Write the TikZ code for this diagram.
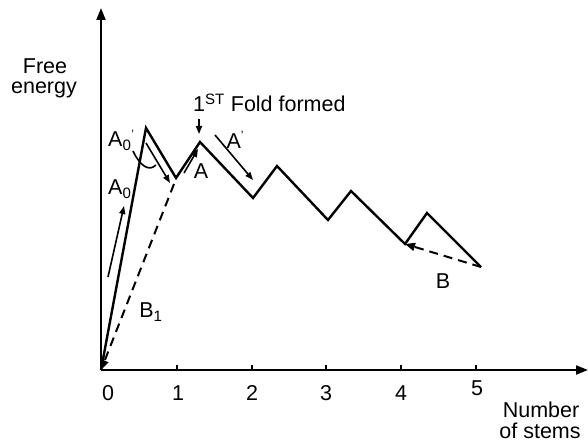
\documentclass[tikz,border=0pt]{standalone}
\usepackage{fontspec}
\setmainfont{Liberation Sans}
\usetikzlibrary{arrows.meta}
\begin{document}
\begin{tikzpicture}[x=1pt,y=-1pt,
  lbl/.style={font=\fontsize{21.5}{24}\selectfont, inner sep=0pt},
  axis/.style={line width=2pt, -{Triangle[length=12pt,width=9pt]}},
  curve/.style={line width=2.4pt, line join=miter},
  arr/.style={line width=1.6pt, -{Triangle[length=8pt,width=6pt]}},
  dasharr/.style={line width=2pt, dash pattern=on 9pt off 6pt, -{Triangle[length=10pt,width=8pt]}}]
\useasboundingbox (0,0) rectangle (588,443);
% axes
\coordinate (O) at (101,370);
\coordinate (Ytop) at (101,8);
\coordinate (Xend) at (588,370);
\draw[axis] (O) -- (Ytop);
\draw[axis] (O) -- (Xend);
\foreach \x/\n in {177/1,252/2,326/3,401/4,476/5}{
  \coordinate (t\n) at (\x,370);
  \draw[line width=1.4pt] (t\n) -- ++(0,-5);
}
% zigzag
\coordinate (P1) at (146,128);
\coordinate (V1) at (176,178);
\coordinate (P2) at (200,142);
\coordinate (V2) at (253,198);
\coordinate (P3) at (277,166);
\coordinate (V3) at (328,220);
\coordinate (P4) at (351,191);
\coordinate (V4) at (405,244);
\coordinate (P5) at (427,213);
\coordinate (E) at (481,267);
\draw[curve] (O) -- (P1) -- (V1) -- (P2) -- (V2) -- (P3) -- (V3) -- (P4) -- (V4) -- (P5) -- (E);
% dashed arrows
\coordinate (B1s) at (174,184);
\draw[dasharr] (B1s) -- (O);
\draw[dasharr] (E) -- (V4);
% small arrows
\coordinate (a0s) at (108,277);
\coordinate (a0e) at (124,206);
\draw[arr] (a0s) -- (a0e);
\coordinate (d1s) at (146,143);
\coordinate (d1e) at (170,183);
\draw[arr] (d1s) -- (d1e);
\coordinate (as) at (184,173);
\coordinate (ae) at (198,149);
\draw[arr] (as) -- (ae);
\coordinate (aps) at (215,135);
\coordinate (ape) at (253,180);
\draw[arr] (aps) -- (ape);
\coordinate (fs) at (199,119);
\coordinate (fe) at (199,134);
\draw[arr] (fs) -- (fe);
\coordinate (cs) at (133,151);
\coordinate (ce) at (156,165);
\draw[line width=1.6pt] (cs) .. controls (140,166) and (149,172) .. (ce);
% labels
\node[lbl] (free) at (45,66) {Free};
\node[lbl] (energy) at (44,90) {energy};
\node[lbl, anchor=base west] (fold) at (193,112) {1\textsuperscript{ST} Fold formed};
\node[lbl, anchor=base west] (A0p) at (108,147) {A\textsubscript{0}\raisebox{0.4em}{\fontsize{12}{12}\selectfont\textquoteright}};
\node[lbl, anchor=base west] (A0) at (108,195) {A\textsubscript{0}};
\node[lbl] (A) at (201,171) {A};
\node[lbl] (Ap) at (235,140) {A\raisebox{0.4em}{\fontsize{12}{12}\selectfont\textquoteright}};
\node[lbl] (B) at (443,281) {B};
\node[lbl] (B1) at (151,312) {B\textsubscript{1}};
\node[lbl] (l0) at (108,393) {0};
\node[lbl] (l1) at (178,393) {1};
\node[lbl] (l2) at (252,393) {2};
\node[lbl] (l3) at (326,393) {3};
\node[lbl] (l4) at (401,393) {4};
\node[lbl] (l5) at (477,388) {5};
\node[lbl] (num) at (541,410) {Number};
\node[lbl] (stems) at (540,431) {of stems};
\end{tikzpicture}
\end{document}
